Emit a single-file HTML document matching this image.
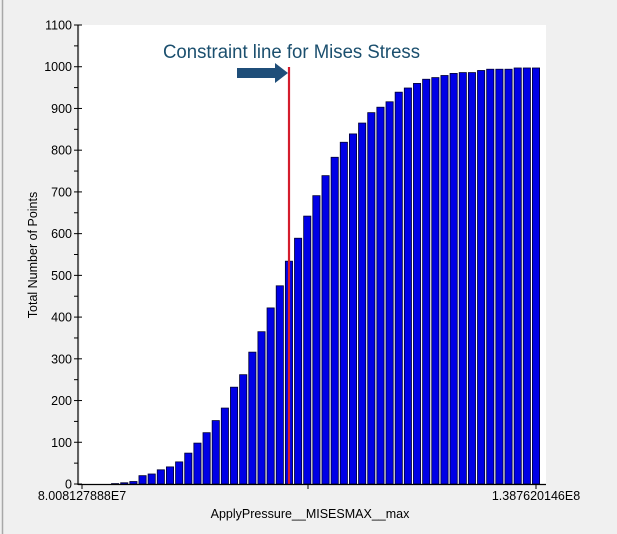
<!DOCTYPE html>
<html><head><style>
body{margin:0;background:#f0f0f0;}
svg{display:block;font-family:"Liberation Sans",sans-serif;}
</style></head><body>
<svg width="617" height="534" viewBox="0 0 617 534" xmlns="http://www.w3.org/2000/svg">
<rect x="0" y="0" width="617" height="534" fill="#f0f0f0"/>
<line x1="2.5" y1="0" x2="2.5" y2="534" stroke="#a8a8a8" stroke-width="1.5"/>
<rect x="80" y="25" width="466" height="459" fill="#ffffff"/>
<g id="bars" fill="#0000e6" stroke="#000033" stroke-width="0.8"></g>
<line x1="289" y1="67" x2="289" y2="484" stroke="#d41c2c" stroke-width="2.2"/>
<polygon points="237,68 275,68 275,63 288,73 275,83 275,78 237,78" fill="#1f4e79"/>
<text x="163" y="58" font-size="19" fill="#1b4f6e" textLength="257" lengthAdjust="spacingAndGlyphs">Constraint line for Mises Stress</text>
<line x1="78" y1="25" x2="78" y2="485" stroke="#000" stroke-width="1.2"/>
<line x1="78" y1="484.5" x2="546" y2="484.5" stroke="#000" stroke-width="1.2"/>
<g id="yt" font-size="12.5" fill="#000" text-anchor="end"></g>
<line x1="82" y1="484" x2="82" y2="489" stroke="#000"/>
<line x1="308" y1="484" x2="308" y2="489" stroke="#000"/>
<line x1="536" y1="484" x2="536" y2="489" stroke="#000"/>
<text x="82" y="500" font-size="12.5" text-anchor="middle">8.008127888E7</text>
<text x="536" y="500" font-size="12.5" text-anchor="middle">1.387620146E8</text>
<text x="310" y="518" font-size="12.5" text-anchor="middle">ApplyPressure__MISESMAX__max</text>
<text transform="translate(37,255) rotate(-90)" font-size="12.5" text-anchor="middle">Total Number of Points</text>
</svg>
<script>
var v=[1,3,6,20,24,34,41,53,74,98,123,152,182,232,262,316,365,422,475,534,589,642,691,739,783,819,839,865,890,903,916,939,949,960,970,974,979,984,986,986,991,994,994,994,997,997,997];
var g=document.getElementById('bars'),s='';
for(var i=0;i<v.length;i++){var x=111.5+i*9.15,h=v[i]*0.41727;s+='<rect x="'+x.toFixed(2)+'" y="'+(484-h).toFixed(2)+'" width="7.2" height="'+h.toFixed(2)+'"/>';}
g.innerHTML=s;
var t=document.getElementById('yt'),u='';
for(var k=0;k<=22;k++){var y=484-k*50*0.41727;
u+='<line x1="74" y1="'+y.toFixed(2)+'" x2="'+(k%2?78:82)+'" y2="'+y.toFixed(2)+'" stroke="#000"/>';
if(k%2==0)u+='<text x="72" y="'+(y+4.5).toFixed(2)+'">'+(k*50)+'</text>';}
t.innerHTML=u;
</script>
</body></html>
